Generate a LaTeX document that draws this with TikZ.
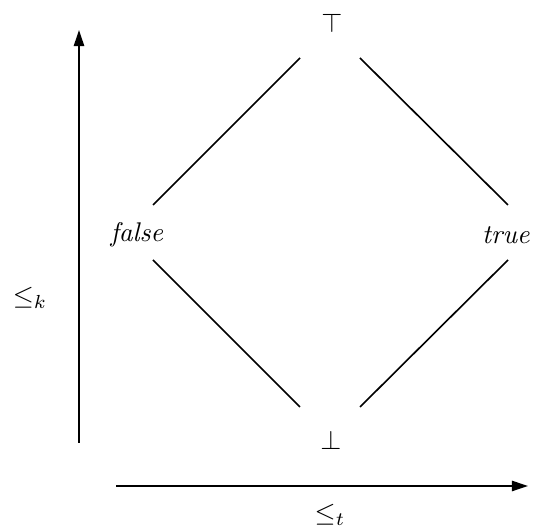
\documentclass[tikz,border=0pt]{standalone}
\usetikzlibrary{arrows.meta}
\begin{document}
\begin{tikzpicture}[x=0.37pt,y=-0.37pt,
  lat/.style={inner sep=0pt},
  edge/.style={line width=0.6pt},
  axis/.style={line width=0.75pt,-{Triangle[length=6pt,width=3.8pt]}}]
\useasboundingbox (0,0) rectangle (535,531);
\node[lat] (top) at (332,23) {$\top$};
\node[lat] (false) at (137,235) {\textit{false}};
\node[lat] (true) at (506,235) {\textit{true}};
\node[lat] (bot) at (331,440) {$\bot$};
\node[lat] (lk) at (30,298) {$\leq_k$};
\node[lat] (lt) at (330,515) {$\leq_t$};
\coordinate (ks) at (79,443);
\coordinate (ke) at (79,30);
\coordinate (ts) at (116,486);
\coordinate (te) at (528,486);
\draw[edge] ([shift={(16,-30)}]false.center) -- ([shift={(-32,35)}]top.center);
\draw[edge] ([shift={(28,35)}]top.center) -- ([shift={(2,-30)}]true.center);
\draw[edge] ([shift={(16,25)}]false.center) -- ([shift={(-31,-33)}]bot.center);
\draw[edge] ([shift={(29,-33)}]bot.center) -- ([shift={(2,25)}]true.center);
\draw[axis] (ks) -- (ke);
\draw[axis] (ts) -- (te);
\end{tikzpicture}
\end{document}
